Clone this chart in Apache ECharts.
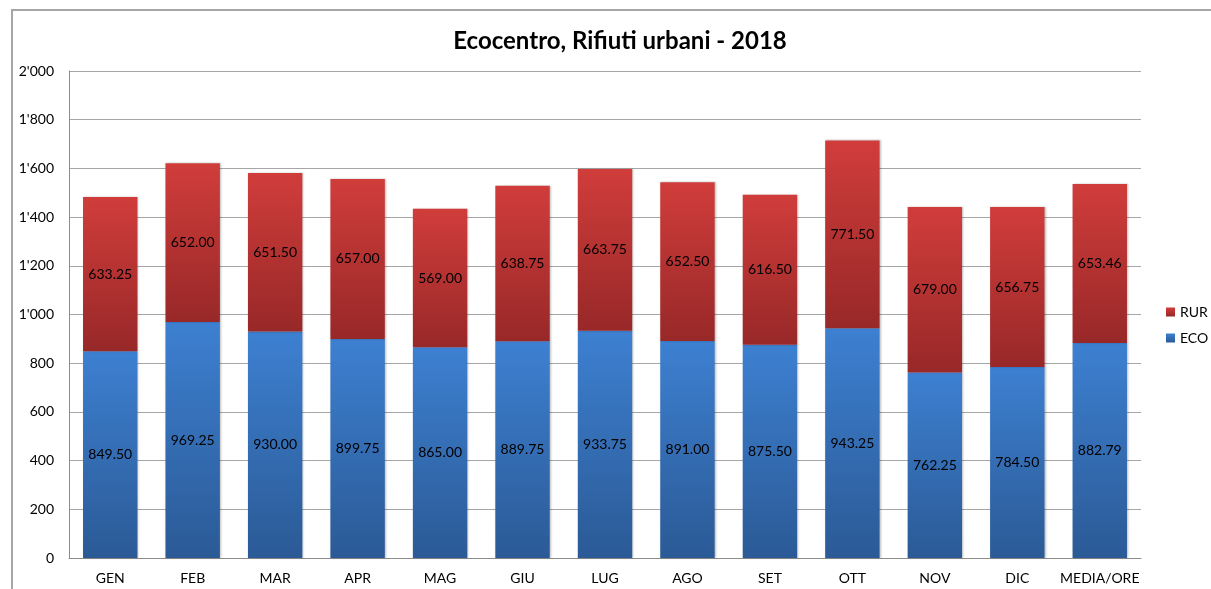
<!DOCTYPE html>
<html>
<head>
<meta charset="utf-8">
<script src="https://cdn.jsdelivr.net/npm/echarts@6/dist/echarts.min.js"></script>
<style>html,body{margin:0;padding:0;background:#fff}#c{width:1211px;height:589px}</style>
</head>
<body>
<div id="c"></div>
<script>
const categories = ['GEN','FEB','MAR','APR','MAG','GIU','LUG','AGO','SET','OTT','NOV','DIC','MEDIA/ORE'];
const ecoValues = [849.50, 969.25, 930.00, 899.75, 865.00, 889.75, 933.75, 891.00, 875.50, 943.25, 762.25, 784.50, 882.79];
const rurValues = [633.25, 652.00, 651.50, 657.00, 569.00, 638.75, 663.75, 652.50, 616.50, 771.50, 679.00, 656.75, 653.46];
const titleText = 'Ecocentro, Rifiuti urbani - 2018';

const FONT = 'Lato';
const chart = echarts.init(document.getElementById('c'));
function grad(top, bottom) {
  return new echarts.graphic.LinearGradient(0, 0, 0, 1, [{offset: 0, color: top}, {offset: 1, color: bottom}]);
}
const labelCfg = {show: true, position: 'inside', color: '#000', fontFamily: FONT, fontSize: 14, formatter: p => p.value.toFixed(2)};
chart.setOption({
  animation: false,
  textStyle: {fontFamily: FONT},
  title: {text: titleText, left: 615, top: 24, textAlign: 'center',
    textStyle: {fontFamily: FONT, fontSize: 24, fontWeight: 'bold', color: '#000'}},
  graphic: [{type: 'polyline', shape: {points: [[12, 600], [12, 10], [1220, 10]]},
    style: {stroke: '#a6a6a6', lineWidth: 2, fill: null}}],
  legend: {orient: 'vertical', left: 1161, top: 300, itemWidth: 9, itemHeight: 9, itemGap: 12,
    data: ['RUR', 'ECO'], textStyle: {fontFamily: FONT, fontSize: 14, color: '#000'}, icon: 'rect'},
  grid: {left: 69, right: 70, top: 71, bottom: 31, containLabel: false},
  xAxis: {type: 'category', data: categories,
    axisLine: {lineStyle: {color: '#8c8c8c', width: 1}}, axisTick: {show: false},
    axisLabel: {color: '#000', fontSize: 14, fontFamily: FONT, margin: 13, interval: 0}},
  yAxis: {type: 'value', min: 0, max: 2000, interval: 200,
    axisLine: {show: true, lineStyle: {color: '#8c8c8c', width: 1}}, axisTick: {show: false},
    splitLine: {lineStyle: {color: '#a6a6a6', width: 1}},
    axisLabel: {color: '#000', fontSize: 14, fontFamily: FONT, margin: 15,
      formatter: v => String(v).replace(/\B(?=(\d{3})+(?!\d))/g, "'")}},
  series: [
    {name: 'ECO', type: 'bar', stack: 't', data: ecoValues, barWidth: '66%',
      itemStyle: {color: grad('#3d80d1', '#2b5a96'), shadowColor: 'rgba(0,0,0,0.25)', shadowBlur: 2, shadowOffsetX: 1, shadowOffsetY: 0},
      label: labelCfg},
    {name: 'RUR', type: 'bar', stack: 't', data: rurValues, barWidth: '66%',
      itemStyle: {color: grad('#d03d3b', '#982828'), shadowColor: 'rgba(0,0,0,0.25)', shadowBlur: 2, shadowOffsetX: 1, shadowOffsetY: 0},
      label: labelCfg}
  ]
});
</script>
</body>
</html>
